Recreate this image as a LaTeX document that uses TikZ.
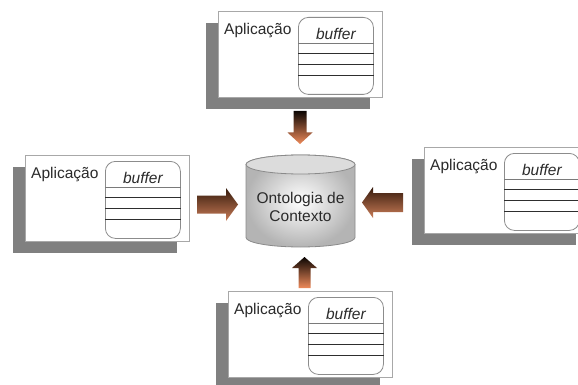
\documentclass[tikz,border=0pt]{standalone}
\usepackage{fontspec}
\setmainfont{Liberation Sans}
\usetikzlibrary{shadows}

\definecolor{framegray}{HTML}{A8A8A8}
\definecolor{shadowgray}{HTML}{808080}
\definecolor{bufgray}{HTML}{8C8C8C}
\definecolor{linedark}{HTML}{2E2E2E}
\definecolor{linelight}{HTML}{7A7A7A}
\definecolor{cylborder}{HTML}{8A8A8A}
\definecolor{cyltop}{HTML}{DCDCDC}
\definecolor{cylouter}{HTML}{B4B4B4}
\definecolor{textgray}{HTML}{2A2A2A}
\definecolor{vdark}{HTML}{0C0603}
\definecolor{vlight}{HTML}{EE8A5A}
\definecolor{hdark}{HTML}{351A0C}
\definecolor{hlight}{HTML}{C97C57}

\begin{document}
\begin{tikzpicture}[x=1pt, y=-1pt,
  appframe/.style={draw=framegray, line width=0.8pt, fill=white,
    minimum width=164pt, minimum height=86pt, inner sep=0pt,
    drop shadow={shadow xshift=-12pt, shadow yshift=-11.5pt,
      fill=shadowgray, opacity=1}},
  bufbox/.style={draw=bufgray, line width=0.8pt, rounded corners=10pt,
    minimum width=75pt, minimum height=77pt, inner sep=0pt},
  bufline/.style={draw=linedark, line width=0.9pt},
  bufline first/.style={draw=linelight, line width=0.8pt},
  lbl/.style={font=\fontsize{15.5}{18}\selectfont, text=textgray, inner sep=0pt},
  buftext/.style={lbl, font=\fontsize{15.5}{18}\selectfont\itshape},
  vgrad/.style={top color=vdark, bottom color=vlight},
  hgrad/.style={top color=hdark, bottom color=hlight},
  app/.pic={
    \node[appframe, anchor=north west] (-box) at (0,0) {};
    \node[bufbox, anchor=north west] (-buf) at (80,6) {};
    \draw[bufline first] ([yshift=-26pt]-buf.north west) -- ([yshift=-26pt]-buf.north east);
    \draw[bufline] ([yshift=-36.5pt]-buf.north west) -- ([yshift=-36.5pt]-buf.north east);
    \draw[bufline] ([yshift=-47pt]-buf.north west) -- ([yshift=-47pt]-buf.north east);
    \draw[bufline] ([yshift=-58pt]-buf.north west) -- ([yshift=-58pt]-buf.north east);
    \node[buftext] (-buftxt) at ([yshift=-17pt]-buf.north) {buffer};
    \node[lbl, anchor=west] (-name) at (6,20) {Aplicação};
  }]
\useasboundingbox (0,0) rectangle (578,385);
\clip (0,0) rectangle (578,385);

% the four applications
\pic (top)    at (218,11)  {app};
\pic (left)   at (25,155)  {app};
\pic (right)  at (424,147) {app};
\pic (bottom) at (228,291) {app};

% context ontology store
\coordinate (cylc) at (300.5,164.5);
\shade[inner color=white, outer color=cylouter, draw=cylborder, line width=0.8pt]
  (246,164.5) -- (246,237.5)
  arc[start angle=180, end angle=360, x radius=54.5pt, y radius=9.5pt]
  -- (355,164.5)
  arc[start angle=0, end angle=180, x radius=54.5pt, y radius=9.5pt] -- cycle;
\filldraw[fill=cyltop, draw=cylborder, line width=0.8pt]
  (cylc) ellipse[x radius=54.5pt, y radius=9.5pt];
\node[lbl, align=center] (onto) at (300.5,207) {Ontologia de\\Contexto};

% block arrows into the store
\coordinate (arrT) at (300,111);
\coordinate (arrB) at (304.5,257);
\coordinate (arrL) at (238,204.5);
\coordinate (arrR) at (362,202.5);

\shade[vgrad] (arrT) ++(-6.5,0) -- ++(13,0) -- ++(0,21.5) -- ++(6,0)
  -- ++(-12.5,11.5) -- ++(-12.5,-11.5) -- ++(6,0) -- cycle;
\shade[vgrad] (arrB) -- ++(12.5,11) -- ++(-6.5,0) -- ++(0,20) -- ++(-12,0)
  -- ++(0,-20) -- ++(-6.5,0) -- cycle;
\shade[hgrad] (arrL) -- ++(-12,-16.5) -- ++(0,7.5) -- ++(-29,0) -- ++(0,18)
  -- ++(29,0) -- ++(0,7.5) -- cycle;
\shade[hgrad] (arrR) -- ++(11,-15.5) -- ++(0,6) -- ++(30,0) -- ++(0,19)
  -- ++(-30,0) -- ++(0,6) -- cycle;
\end{tikzpicture}
\end{document}
